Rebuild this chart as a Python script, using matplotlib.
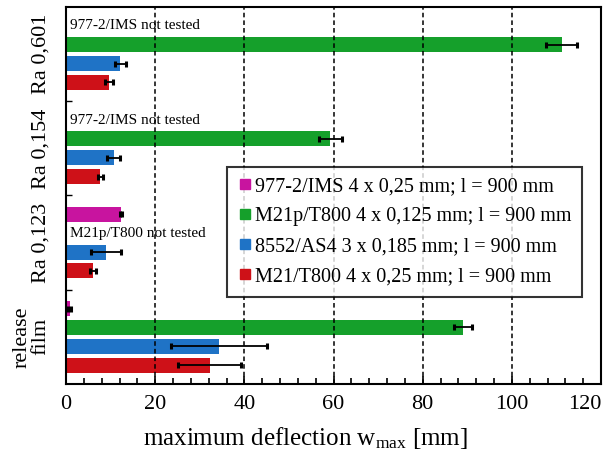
import matplotlib.pyplot as plt
import numpy as np
from matplotlib.lines import Line2D

plt.rcParams['font.family'] = ['Liberation Serif', 'DejaVu Serif']
plt.rcParams['mathtext.fontset'] = 'custom'
plt.rcParams['mathtext.rm'] = 'Liberation Serif'
plt.rcParams['mathtext.it'] = 'Liberation Serif:italic'

# groups from bottom to top
groups = ["release\nfilm", "Ra 0,123", "Ra 0,154", "Ra 0,601"]
materials = ["977-2/IMS 4 x 0,25 mm; l = 900 mm",
             "M21p/T800 4 x 0,125 mm; l = 900 mm",
             "8552/AS4 3 x 0,185 mm; l = 900 mm",
             "M21/T800 4 x 0,25 mm; l = 900 mm"]
colors = ["#C8149F", "#15A02B", "#1F73C6", "#CE1118"]

# values per material, one per group (None = not tested)
ims_977 = [0.8, 12.3, None, None]
ims_977_err = [0.4, 0.3, None, None]
m21p_t800 = [89.0, None, 59.3, 111.2]
m21p_t800_err = [2.0, None, 2.5, 3.5]
as4_8552 = [34.3, 9.0, 10.7, 12.2]
as4_8552_err = [10.8, 3.4, 1.4, 1.2]
m21_t800 = [32.2, 6.0, 7.7, 9.7]
m21_t800_err = [7.1, 0.7, 0.6, 0.9]

values = [ims_977, m21p_t800, as4_8552, m21_t800]
errors = [ims_977_err, m21p_t800_err, as4_8552_err, m21_t800_err]

fig = plt.figure(figsize=(6.07, 4.54), dpi=100)
ax = fig.add_axes([66 / 607, 1 - 384 / 454, 535 / 607, 377 / 454])

for j in range(4):
    for i in range(4):
        v = values[j][i]
        if v is None:
            continue
        y = i * 5 + (3 - j)
        ax.barh(y, v, height=0.8, color=colors[j], zorder=2)
        ax.errorbar(v, y, xerr=errors[j][i], fmt='none', ecolor='black',
                    elinewidth=1.3, capsize=2.5, capthick=2.2, zorder=4)

# "not tested" notes
ax.text(0.9, 3 * 5 + 3, "977-2/IMS not tested", fontsize=11, va='center', ha='left')
ax.text(0.9, 2 * 5 + 3, "977-2/IMS not tested", fontsize=11, va='center', ha='left')
ax.text(0.9, 1 * 5 + 2, "M21p/T800 not tested", fontsize=11, va='center', ha='left')

for gx in [20, 40, 60, 80, 100]:
    ax.axvline(gx, color='black', linestyle=(0, (3, 2)), linewidth=1.1, zorder=3)

ax.set_xlim(0, 120)
ax.set_ylim(-1, 19)
ax.set_xticks(np.arange(0, 121, 20))
ax.set_xticks(np.arange(0, 121, 4), minor=True)
ax.tick_params(axis='x', which='both', direction='in', labelsize=16, pad=8)
ax.tick_params(axis='x', which='major', length=6, width=1.2)
ax.tick_params(axis='x', which='minor', length=4, width=1.2)
ax.get_xticklabels()[-1].set_ha('right')

ax.set_yticks([i * 5 + 1.5 for i in range(4)])
ax.set_yticklabels(groups, rotation=90, va='center', ha='right', fontsize=16,
                   linespacing=1.0, multialignment='center')
ax.set_yticks([4, 9, 14], minor=True)
ax.tick_params(axis='y', which='major', length=0, pad=11)
ax.tick_params(axis='y', which='minor', direction='in', length=4, width=1)

for s in ax.spines.values():
    s.set_linewidth(1.5)

ax.set_xlabel(r"maximum deflection w$_\mathrm{max}$ [mm]", fontsize=18)
ax.xaxis.set_label_coords(0.447, -0.143)
ax.xaxis.label.set_va('center')

handles = [Line2D([0], [0], marker='s', linestyle='none', markersize=7.5,
                  color=c) for c in colors]
leg = ax.legend(handles, materials, loc='upper left', bbox_to_anchor=(0.301, 0.576),
                fontsize=14.5, frameon=True, fancybox=False, handletextpad=0.1,
                handlelength=0.8, borderpad=0.5, labelspacing=0.55, borderaxespad=0)
leg.get_frame().set_edgecolor('black')
leg.get_frame().set_linewidth(1.5)
leg.set_zorder(5)

fig.savefig("out.png", dpi=100)
